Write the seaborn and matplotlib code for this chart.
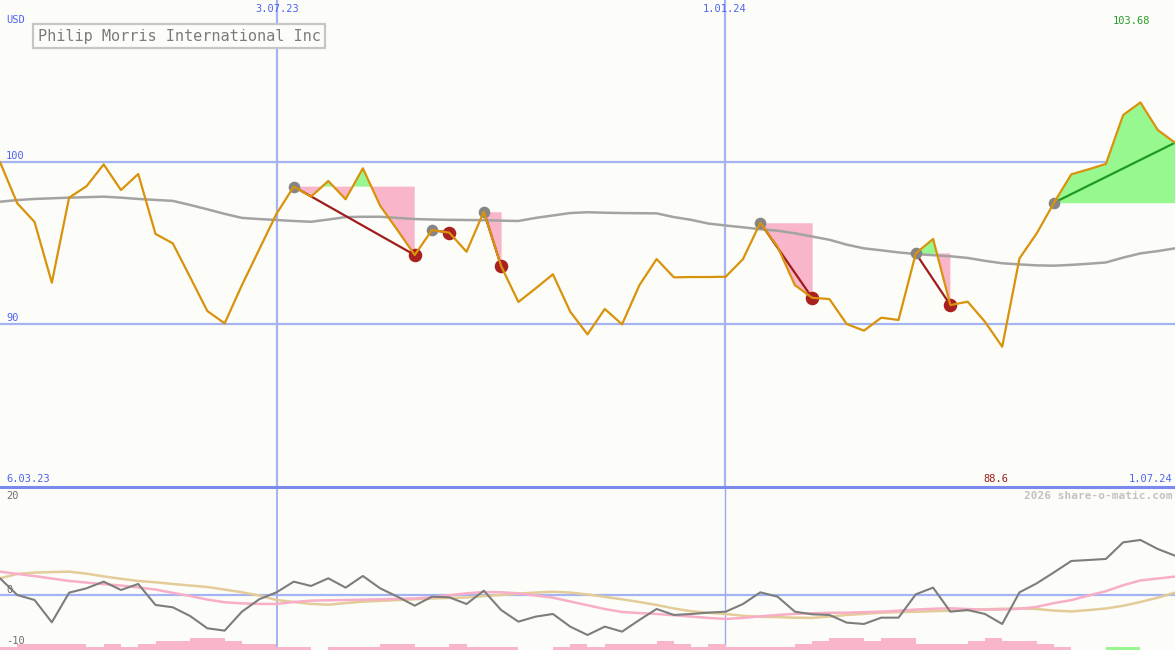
import numpy as np
import pandas as pd
import matplotlib
matplotlib.use('Agg')
import matplotlib.pyplot as plt
from matplotlib.lines import Line2D
import seaborn as sns

# weekly closes, Philip Morris International (USD)
price = [100.0, 97.45, 96.3, 92.55, 97.8, 98.5, 99.85, 98.27, 99.26, 95.56,
         94.98, 92.9, 90.8, 90.04, 92.4, 94.6, 96.8, 98.48, 97.86, 98.83,
         97.7, 99.61, 97.3, 95.8, 94.26, 95.8, 95.64, 94.46, 96.93, 93.58,
         91.36, 92.2, 93.07, 90.76, 89.36, 90.93, 89.98, 92.39, 94.01, 92.88,
         92.9, 92.9, 92.92, 94.01, 96.25, 94.77, 92.4, 91.62, 91.54, 90.0,
         89.59, 90.39, 90.25, 94.36, 95.25, 91.17, 91.38, 90.14, 88.6, 94.05,
         95.6, 97.49, 99.24, 99.55, 99.88, 102.9, 103.68, 101.98, 101.19]

# long moving average
ma = [97.55, 97.65, 97.72, 97.76, 97.8, 97.83, 97.86, 97.8, 97.72, 97.66,
      97.6, 97.35, 97.08, 96.8, 96.55, 96.48, 96.42, 96.36, 96.31, 96.45,
      96.6, 96.62, 96.62, 96.55, 96.48, 96.45, 96.43, 96.42, 96.41, 96.38,
      96.36, 96.55, 96.7, 96.85, 96.9, 96.87, 96.85, 96.84, 96.83, 96.6,
      96.43, 96.2, 96.08, 95.97, 95.85, 95.76, 95.6, 95.4, 95.2, 94.9,
      94.67, 94.55, 94.42, 94.32, 94.25, 94.18, 94.08, 93.9, 93.75, 93.68,
      93.62, 93.6, 93.65, 93.72, 93.8, 94.1, 94.36, 94.5, 94.67]

# lower panel indicators
momentum = [3.09, 0.0, -0.93, -5.06, 0.43, 1.23, 2.47, 0.93, 2.04, -1.85,
            -2.28, -3.89, -6.17, -6.6, -3.09, -0.8, 0.49, 2.47, 1.67, 3.09,
            1.36, 3.52, 1.23, -0.31, -1.98, -0.31, -0.43, -1.67, 0.8, -2.78,
            -4.94, -4.01, -3.52, -5.86, -7.41, -5.86, -6.79, -4.63, -2.59, -3.7,
            -3.52, -3.27, -3.09, -1.67, 0.49, -0.31, -3.09, -3.58, -3.7, -5.12,
            -5.37, -4.2, -4.2, 0.12, 1.36, -3.09, -2.78, -3.52, -5.37, 0.49,
            2.16, 4.2, 6.3, 6.48, 6.67, 9.75, 10.19, 8.52, 7.28]

signal_pink = [4.32, 3.9, 3.5, 3.05, 2.6, 2.3, 2.0, 1.75, 1.4, 1.0,
               0.4, -0.19, -0.85, -1.35, -1.55, -1.65, -1.67, -1.3, -1.05, -0.98,
               -0.93, -0.87, -0.8, -0.72, -0.65, -0.4, -0.05, 0.3, 0.55, 0.5,
               0.31, -0.1, -0.5, -1.2, -1.9, -2.6, -3.15, -3.35, -3.52, -3.75,
               -4.0, -4.25, -4.44, -4.25, -3.95, -3.7, -3.5, -3.38, -3.3, -3.27,
               -3.18, -3.09, -2.9, -2.7, -2.55, -2.47, -2.6, -2.72, -2.7, -2.55,
               -2.2, -1.5, -0.95, -0.1, 0.7, 1.8, 2.7, 3.05, 3.4]

signal_tan = [3.09, 3.9, 4.15, 4.25, 4.32, 3.95, 3.45, 3.0, 2.6, 2.35,
              2.04, 1.75, 1.48, 1.0, 0.5, -0.1, -0.93, -1.3, -1.65, -1.8,
              -1.5, -1.23, -1.1, -0.95, -0.8, -0.65, -0.55, -0.47, -0.2, 0.0,
              0.25, 0.45, 0.6, 0.45, 0.1, -0.35, -0.8, -1.3, -1.85, -2.5,
              -3.0, -3.3, -3.52, -3.85, -4.05, -4.1, -4.2, -4.25, -4.0, -3.7,
              -3.5, -3.27, -3.18, -3.1, -3.0, -2.92, -2.8, -2.65, -2.55, -2.5,
              -2.6, -2.9, -3.05, -2.8, -2.5, -2.0, -1.3, -0.5, 0.43]

hist = [-0.6, -1.1, -1.1, -1.1, -1.1, -0.6, -1.1, -0.6, -1.1, -1.67,
        -1.67, -2.2, -2.2, -1.67, -1.1, -1.1, -0.6, -0.6, 0, -0.6,
        -0.6, -0.6, -1.1, -1.1, -0.6, -0.6, -1.1, -0.6, -0.6, -0.6,
        0, 0, -0.6, -1.1, -0.6, -1.1, -1.1, -1.1, -1.67, -1.1,
        -0.6, -1.1, -0.6, -0.6, -0.6, -0.6, -1.1, -1.67, -2.2, -2.2,
        -1.67, -2.2, -2.2, -1.1, -1.1, -1.1, -1.67, -2.2, -1.67, -1.67,
        -1.1, -0.6, 0, 0, 0.5, 0.5, 0, 0, 0]

# trades (week index of entry / exit), last one still open
entries = [17, 25, 28, 44, 53, 61]
exits = [24, 26, 29, 47, 55, 68]

date_labels = ['6.03.23', '3.07.23', '1.01.24', '1.07.24']
date_pos = [0, 16.03, 41.96, 68]

BG = '#fcfdf8'
GRID = '#a4b4f2'
BLUE = '#4f63f2'
PINK = '#f9b5c9'
GREEN = '#98f890'

sns.set_style('white')
plt.rcParams['font.family'] = ['DejaVu Sans Mono']

x = np.arange(len(price))
df = pd.DataFrame({'week': x, 'price': price, 'ma': ma, 'mom': momentum,
                   'pink': signal_pink, 'tan': signal_tan, 'hist': hist})

fig = plt.figure(figsize=(11.75, 6.5), dpi=100, facecolor=BG)
ax = fig.add_axes([0, 163 / 650, 1, 487 / 650])
ax2 = fig.add_axes([0, 0, 1, 163 / 650])
for a in (ax, ax2):
    a.set_facecolor(BG)
    a.set_xlim(0, 68)
    a.set_axis_off()
ax.set_ylim(79.94, 110)
ax2.set_ylim(-10.19, 20)

# grid
for lvl in (100, 90):
    ax.axhline(lvl, color=GRID, lw=1.6, zorder=1)
ax2.axhline(0, color=GRID, lw=1.6, zorder=1)
for p in date_pos[1:3]:
    ax.axvline(p, color=GRID, lw=1.6, zorder=1)
ax2.axvline(date_pos[1], color=GRID, lw=1.4, zorder=1)
ax2.axvline(date_pos[2], color='#9aaaf0', lw=1.0, zorder=1)

# trade zones
pr = np.array(price)
for e, q in zip(entries, exits):
    xs = x[e:q + 1]
    ys = pr[e:q + 1]
    base = pr[e]
    ax.fill_between(xs, ys, base, where=ys >= base, interpolate=True,
                    color=GREEN, lw=0, zorder=2)
    ax.fill_between(xs, ys, base, where=ys <= base, interpolate=True,
                    color=PINK, lw=0, zorder=2)
    open_trade = q == len(price) - 1
    sns.lineplot(x=[e, q], y=[pr[e], pr[q]], ax=ax, lw=1.6, zorder=4,
                 color='#1f9a1f' if open_trade else '#a01c1c')

sns.lineplot(data=df, x='week', y='ma', ax=ax, color='#a3a3a3', lw=1.8, zorder=3)

closed = [q for q in exits if q != len(price) - 1]
sns.scatterplot(x=entries, y=pr[entries], ax=ax, color='#858585', s=70,
                linewidth=0, zorder=5)
sns.scatterplot(x=closed, y=pr[closed], ax=ax, color='#a82020', s=95,
                linewidth=0, zorder=5)
sns.lineplot(data=df, x='week', y='price', ax=ax, color='#d9920b', lw=1.6, zorder=6)

# lower panel
hv = np.array(hist)
ax2.bar(x, np.abs(hv), bottom=-10.19, width=1, align='edge', linewidth=0,
        color=[GREEN if v > 0 else PINK for v in hv], zorder=2)
sns.lineplot(data=df, x='week', y='tan', ax=ax2, color='#e3cb9a', lw=1.8, zorder=3)
sns.lineplot(data=df, x='week', y='pink', ax=ax2, color='#f7aec6', lw=1.8, zorder=3)
sns.lineplot(data=df, x='week', y='mom', ax=ax2, color='#7d7d7d', lw=1.5, zorder=4)

fig.add_artist(Line2D([0, 1], [163 / 650] * 2, transform=fig.transFigure,
                      color='#7a8aec', lw=2.2))

# texts
def ftext(px, py, s, **kw):
    fig.text(px / 1175, 1 - py / 650, s, **kw)

small = dict(fontsize=7.5)
ftext(6, 20, 'USD', color=BLUE, va='center', **small)
ftext(277, 9, date_labels[1], color=BLUE, ha='center', va='center', **small)
ftext(725, 9, date_labels[2], color=BLUE, ha='center', va='center', **small)
ftext(1150, 21, f'{max(price):.2f}', color='#2a9a2a', ha='right', va='center', **small)
ftext(6, 156, '100', color=BLUE, va='center', **small)
ftext(6, 318, '90', color=BLUE, va='center', **small)
ftext(6, 479, date_labels[0], color=BLUE, va='center', **small)
ftext(1008, 479, f'{min(price):.1f}', color='#9a1c1c', ha='right', va='center', **small)
ftext(1172, 479, date_labels[3], color=BLUE, ha='right', va='center', **small)
ftext(1172, 496, '2026 share-o-matic.com', color='#c2c2c2', ha='right',
      va='center', fontsize=8, fontweight='bold')
ftext(6, 496, '20', color='#6e6e6e', va='center', **small)
ftext(6, 590, '0', color='#6e6e6e', va='center', **small)
ftext(6, 641, '-10', color='#6e6e6e', va='center', **small)

ftext(38, 36, 'Philip Morris International Inc', color='#7c7c7c', va='center',
      fontsize=11,
      bbox=dict(boxstyle='square,pad=0.3', facecolor=BG, edgecolor='#c6c6c6', lw=1.6))

fig.savefig('out.png', dpi=100, facecolor=BG)
